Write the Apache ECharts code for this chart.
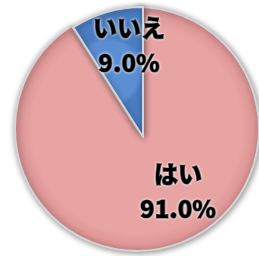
<!DOCTYPE html>
<html>
<head>
<meta charset="utf-8">
<script src="https://cdn.jsdelivr.net/npm/echarts@6/dist/echarts.min.js"></script>
<style>
  html, body { margin: 0; padding: 0; background: #fff; }
  #chart { width: 259px; height: 256px; }
</style>
</head>
<body>
<div id="chart"></div>
<script>
// answers, clockwise from 12 o'clock
const names = ['はい', 'いいえ']
const values = [91.0, 9.0]
const colors = ['#e8a3a3', '#5b8ed3']

// label spots (pixel) for each slice
const labelPos = [[178, 191], [129, 45]]

const chart = echarts.init(document.getElementById('chart'))

// one series per slice so the blue one can sit a bit apart, like Excel's exploded slice
const sliceSeries = (idx, center, radius) => ({
    type: 'pie',
    center: center,
    radius: radius,
    startAngle: 90,
    clockwise: true,
    silent: true,
    z: idx === 1 ? 3 : 2,
    labelLine: { show: false },
    label: {
        show: true,
        position: 'inside',
        fontFamily: 'Noto Sans CJK JP',
        fontWeight: 900,
        fontSize: 24,
        lineHeight: 35,
        color: '#000',
        textBorderColor: '#000',
        textBorderWidth: 1.2,
        textShadowColor: '#fff',
        textShadowBlur: 3,
        formatter: p => p.name + '\n' + p.value.toFixed(1) + '%'
    },
    labelLayout: () => ({ x: labelPos[idx][0], y: labelPos[idx][1], align: 'center', verticalAlign: 'middle' }),
    data: names.map((n, i) => ({
        name: n,
        value: values[i],
        label: { show: i === idx },
        itemStyle: i === idx ? {
            color: {
                type: 'radial', x: 0.5, y: 0.5, r: 0.5,
                colorStops: [
                    { offset: 0, color: colors[i] },
                    { offset: 0.85, color: colors[i] },
                    { offset: 1, color: i === 0 ? '#d98f8f' : '#4a7cc2' }
                ]
            },
            borderColor: '#d4d4d4',
            borderWidth: 2,
            shadowBlur: 6,
            shadowColor: 'rgba(0,0,0,0.45)',
            shadowOffsetX: 1,
            shadowOffsetY: 1
        } : { color: 'rgba(0,0,0,0)', borderWidth: 0 }
    }))
})

chart.setOption({
    animation: false,
    series: [
        sliceSeries(0, [137, 129], 122),
        sliceSeries(1, [143, 137], 130)
    ]
})
</script>
</body>
</html>
